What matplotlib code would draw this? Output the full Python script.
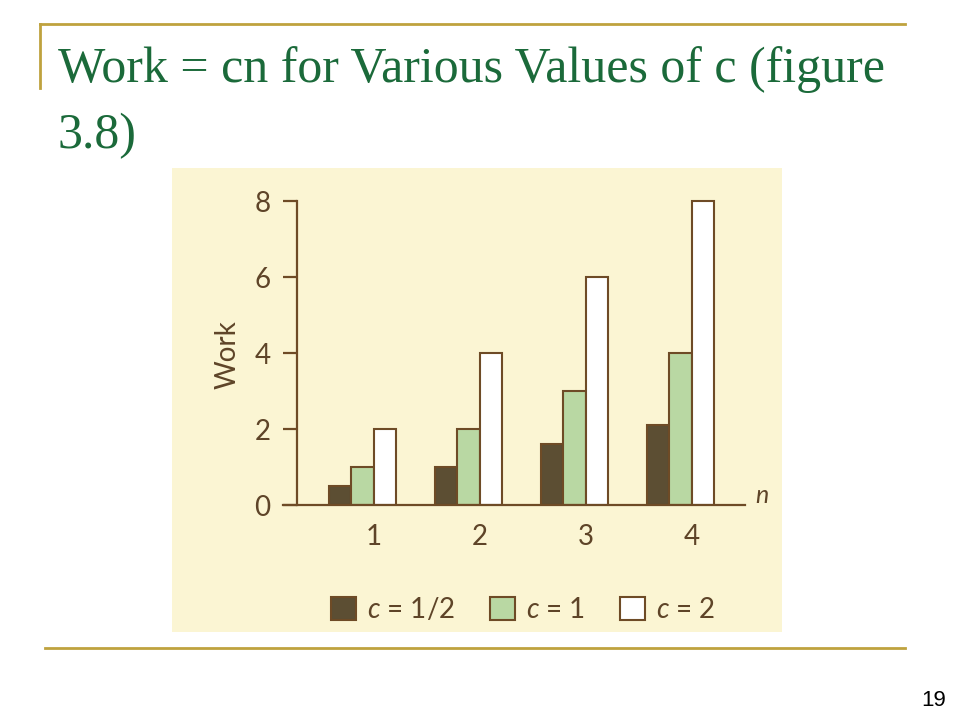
import matplotlib.pyplot as plt
from matplotlib.patches import Rectangle
from matplotlib.lines import Line2D

# data
n = [1, 2, 3, 4]
work_half = [0.5, 1.0, 1.6, 2.1]
work_one = [1.0, 2.0, 3.0, 4.0]
work_two = [2.0, 4.0, 6.0, 8.0]
labels = ["$c$ = 1/2", "$c$ = 1", "$c$ = 2"]
yticks = [0, 2, 4, 6, 8]

plt.rcParams['font.family'] = ['Lato', 'DejaVu Sans']
plt.rcParams['mathtext.fontset'] = 'custom'
plt.rcParams['mathtext.it'] = 'Lato:italic'
plt.rcParams['mathtext.rm'] = 'Lato'

gold = '#BFA23E'
green_title = '#1B6A3A'
brown = '#6E4B26'
ink = '#5E4428'
W, H = 960, 720

fig = plt.figure(figsize=(9.6, 7.2), dpi=100)
fig.patch.set_facecolor('white')

def fx(px):
    return px / W

def fy(py):
    return 1 - py / H

# slide decorations
fig.add_artist(Line2D([fx(40), fx(905)], [fy(24), fy(24)], color=gold, lw=2))
fig.add_artist(Line2D([fx(40), fx(40)], [fy(24), fy(88)], color=gold, lw=2))
fig.add_artist(Line2D([fx(45), fx(905)], [fy(648), fy(648)], color=gold, lw=2))
fig.text(fx(58), fy(82), "Work = cn for Various Values of c (figure", family='Liberation Serif',
         fontsize=36, color=green_title, va='baseline', ha='left')
fig.text(fx(58), fy(148), "3.8)", family='Liberation Serif',
         fontsize=36, color=green_title, va='baseline', ha='left')
fig.text(fx(946), fy(700), "19", family='Liberation Sans', fontsize=16,
         color='black', ha='right', va='center')

# scanned page background
fig.add_artist(Rectangle((fx(172), fy(632)), fx(782) - fx(172), fy(168) - fy(632),
                         transform=fig.transFigure, facecolor='#FBF5D3', edgecolor='none', zorder=0))

ax = fig.add_axes([fx(283), fy(505), fx(745) - fx(283), (505 - 189.6) / H])
ax.set_facecolor('none')
w = 0.212
xs = [v for v in n]
b1 = ax.bar([v - w for v in xs], work_half, width=w, color='#5C4E33', edgecolor=brown, lw=1.5, label=labels[0])
b2 = ax.bar(xs, work_one, width=w, color='#B9D8A3', edgecolor=brown, lw=1.5, label=labels[1])
b3 = ax.bar([v + w for v in xs], work_two, width=w, color='white', edgecolor=brown, lw=1.5, label=labels[2])

ax.set_xlim(0.25, 4.61)
ax.set_ylim(0, 8.3)
for s in ['top', 'right']:
    ax.spines[s].set_visible(False)
ax.spines['left'].set_position(('data', 0.382))
ax.spines['left'].set_bounds(0, 8)
for s in ['left', 'bottom']:
    ax.spines[s].set_color(brown)
    ax.spines[s].set_linewidth(1.6)

ax.set_yticks(yticks)
ax.set_yticklabels([str(t) for t in yticks])
ax.tick_params(axis='y', length=10, width=1.6, color=brown, pad=9, labelsize=20, labelcolor=ink)
ax.set_xticks([v + w / 2 for v in xs])
ax.set_xticklabels([str(v) for v in n])
ax.tick_params(axis='x', length=0, pad=14, labelsize=20, labelcolor=ink)

ax.text(4.77, 0.26, "n", fontstyle='italic', fontsize=18, color=ink, ha='center', va='center')
fig.text(fx(228), fy(355), "Work", rotation=90, fontsize=20, color=ink, ha='center', va='center')

fig.legend(handles=[b1, b2, b3], loc='center', bbox_to_anchor=(fx(523), fy(610)), ncol=3,
           frameon=False, fontsize=20, handlelength=0.9, handleheight=0.9,
           handletextpad=0.4, columnspacing=1.25, labelcolor=ink)

fig.savefig("out.png", dpi=100)
